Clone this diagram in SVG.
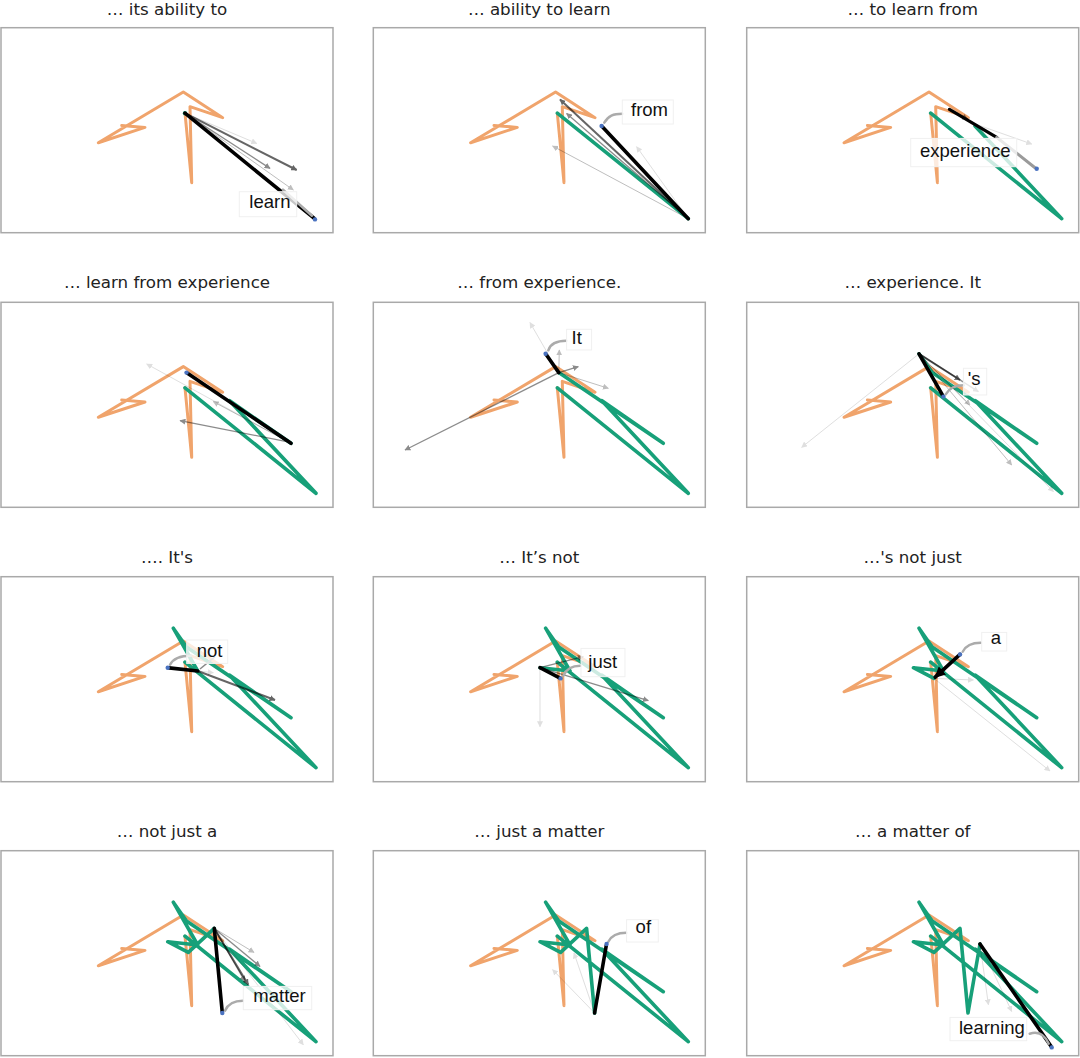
<svg xmlns="http://www.w3.org/2000/svg" xmlns:xlink="http://www.w3.org/1999/xlink" width="1080" height="1058" viewBox="0 0 1080 1058">
<style>
.frame{fill:#fff;stroke:#a9a9a9;stroke-width:1.5}
.title{font-family:"DejaVu Sans",Verdana,sans-serif;font-size:16.7px;fill:#222;text-anchor:middle}
.orange{fill:none;stroke:#f0a46c;stroke-width:3;stroke-linejoin:round;stroke-linecap:round}
.green{fill:none;stroke:#17a079;stroke-width:3.6;stroke-linejoin:round;stroke-linecap:round}
.k{stroke:#000;stroke-width:3.6;stroke-linecap:round}
.kh{stroke:#000;stroke-width:3.6;stroke-linecap:round;marker-end:url(#hk)}
.d1{stroke:#000;stroke-width:2;opacity:.6;marker-end:url(#hg)}
.d2{stroke:#000;stroke-width:1.3;opacity:.45;marker-end:url(#hg)}
.d3{stroke:#000;stroke-width:1;opacity:.25;marker-end:url(#hg)}
.d4{stroke:#000;stroke-width:1;opacity:.12;marker-end:url(#hg)}
.lbl rect{fill:#fff;fill-opacity:.78;stroke:#f0f0f0;stroke-width:1}
.lbl text{font-family:"Liberation Sans",Arial,sans-serif;font-size:18.5px;fill:#111}
.conn{fill:none;stroke:#ababab;stroke-width:2.5;stroke-linecap:round}
.dot{fill:#4a72c0}
.cur{fill:#17a079}
</style>
<defs>
<marker id="hk" viewBox="0 0 10 10" refX="9" refY="5" markerWidth="11" markerHeight="11" markerUnits="userSpaceOnUse" orient="auto"><path d="M0,0 L10,5 L0,10 z" fill="#000"/></marker>
<marker id="hg" viewBox="0 0 10 10" refX="9" refY="5" markerWidth="6" markerHeight="6" markerUnits="userSpaceOnUse" orient="auto"><path d="M0,0 L10,5 L0,10 z" fill="#000"/></marker>
<polyline id="orange" class="orange" points="120.7,97.7 144,99.7 97.3,115 182.3,64.3 221.7,90 189,79 190.7,155 184,85.5"/>
</defs>

<g id="titles">
<text class="title" x="167" y="15">… its ability to</text>
<text class="title" x="539.3" y="15">… ability to learn</text>
<text class="title" x="912.7" y="15">… to learn from</text>
<text class="title" x="167" y="288">… learn from experience</text>
<text class="title" x="539.3" y="288">… from experience.</text>
<text class="title" x="912.7" y="288">… experience. It</text>
<text class="title" x="167" y="562.5">…. It's</text>
<text class="title" x="539.3" y="562.5">… It’s not</text>
<text class="title" x="912.7" y="562.5">…'s not just</text>
<text class="title" x="167" y="836.5">… not just a</text>
<text class="title" x="539.3" y="836.5">… just a matter</text>
<text class="title" x="912.7" y="836.5">… a matter of</text>
</g>

<g id="panel-1" transform="translate(1,27.7)">
<rect class="frame" x="0" y="0" width="332" height="205"/>
<use href="#orange"/>
<circle class="cur" cx="184" cy="85.5" r="2.2"/>
<g id="arrows-1">
<line class="d4" x1="184" y1="85.5" x2="255.7" y2="115.7"/>
<line class="d3" x1="184" y1="85.5" x2="292.3" y2="162.3"/>
<line class="d2" x1="184" y1="85.5" x2="269" y2="140.7"/>
<line class="d1" x1="184" y1="85.5" x2="295.7" y2="142.3"/>
<line class="k" x1="184" y1="85.5" x2="313" y2="190.5"/>
<path class="conn" d="M282,162 L311,188"/>
</g>
<g class="lbl"><rect x="238.3" y="164" width="57.4" height="25"/><text x="248.3" y="180.7">learn</text></g>
<circle class="dot" cx="314" cy="191.7" r="2.2"/>
</g>

<g id="panel-2" transform="translate(373.3,27.7)">
<rect class="frame" x="0" y="0" width="332" height="205"/>
<use href="#orange"/>
<polyline class="green" points="184,85.5 315,191"/>
<g id="arrows-2">
<line class="d4" x1="315" y1="191" x2="263.3" y2="119"/>
<line class="d3" x1="315" y1="191" x2="179.3" y2="118.3"/>
<line class="d2" x1="315" y1="191" x2="193.3" y2="85.7"/>
<line class="d1" x1="315" y1="191" x2="186.7" y2="71.7"/>
<line class="k" x1="315" y1="191" x2="229.5" y2="99.5"/>
<path class="conn" d="M231,95 C235,88 240,86 249,86"/>
</g>
<g class="lbl"><rect x="249" y="72.3" width="51" height="24"/><text x="257.7" y="88.7">from</text></g>
<circle class="dot" cx="228.3" cy="98.3" r="2.2"/>
</g>

<g id="panel-3" transform="translate(746.7,27.7)">
<rect class="frame" x="0" y="0" width="332" height="205"/>
<use href="#orange"/>
<polyline class="green" points="184,85.5 315,191 228.3,98.3"/>
<g id="arrows-3">
<line class="d4" x1="226.7" y1="95.7" x2="285" y2="116.3"/>
<line class="d2" x1="210" y1="86" x2="221" y2="91.5"/>
<line x1="202.7" y1="81.7" x2="250" y2="109.7" stroke="#000" stroke-width="3.2" stroke-linecap="round"/>
<line x1="250" y1="109.7" x2="288.3" y2="140" stroke="#9a9a9a" stroke-width="3" stroke-linecap="round"/>
</g>
<g class="lbl"><rect x="164" y="110.7" width="106" height="28.3"/><text x="173.3" y="129">experience</text></g>
<circle class="dot" cx="290" cy="141" r="2.2"/>
</g>

<g id="panel-4" transform="translate(1,302.3)">
<rect class="frame" x="0" y="0" width="332" height="205"/>
<use href="#orange"/>
<polyline class="green" points="184,85.5 315,191 228.3,98.3 290,141"/>
<g id="arrows-4">
<line class="d4" x1="290" y1="141" x2="145.7" y2="61.7"/>
<line class="d3" x1="290" y1="141" x2="212.3" y2="99.3"/>
<line class="d2" x1="285.7" y1="139.3" x2="179" y2="118.3"/>
<line class="k" x1="290" y1="141" x2="186.5" y2="71"/>
</g>
<circle class="dot" cx="185.5" cy="70.3" r="2.2"/>
</g>

<g id="panel-5" transform="translate(373.3,302.3)">
<rect class="frame" x="0" y="0" width="332" height="205"/>
<use href="#orange"/>
<polyline class="green" points="184,85.5 315,191 228.3,98.3 290,141 185.5,70.3"/>
<g id="arrows-5">
<line class="d2" x1="185.5" y1="70.3" x2="31.7" y2="147.7"/>
<line class="d2" x1="185.5" y1="70.3" x2="205" y2="64.3"/>
<line class="d3" x1="185.5" y1="70.3" x2="235" y2="86"/>
<line class="d4" x1="185.5" y1="70.3" x2="156.7" y2="20.3"/>
<line class="d3" x1="185.5" y1="70.3" x2="186" y2="47.7"/>
<line class="k" x1="185.5" y1="70.3" x2="173" y2="52.5"/>
<path class="conn" d="M175,48 C177,42 183,38.5 193,38.5"/>
</g>
<g class="lbl"><rect x="193.3" y="27" width="25" height="20.7"/><text x="198.3" y="41.7">It</text></g>
<circle class="dot" cx="172.3" cy="51.5" r="2.2"/>
</g>

<g id="panel-6" transform="translate(746.7,302.3)">
<rect class="frame" x="0" y="0" width="332" height="205"/>
<use href="#orange"/>
<polyline class="green" points="184,85.5 315,191 228.3,98.3 290,141 185.5,70.3 172.3,51.5"/>
<g id="arrows-6">
<line class="d4" x1="172.3" y1="51.5" x2="55" y2="145"/>
<line class="d4" x1="172.3" y1="51.5" x2="306.7" y2="189.3"/>
<line class="d3" x1="172.3" y1="51.5" x2="265" y2="162.7"/>
<line class="d3" x1="172.3" y1="51.5" x2="223.3" y2="102.7"/>
<line class="d2" x1="172.3" y1="51.5" x2="231.7" y2="89.3"/>
<line class="d1" x1="172.3" y1="51.5" x2="213.3" y2="77.7"/>
<line class="k" x1="172.3" y1="51.5" x2="196" y2="93"/>
<path class="conn" d="M199,92 C203,85 209,83 217,83" stroke="#c8c8c8"/>
</g>
<g class="lbl"><rect x="216.7" y="66" width="23.3" height="26.7"/><text x="221" y="82.7">'s</text></g>
<circle class="dot" cx="196.7" cy="94.3" r="2.2"/>
</g>

<g id="panel-7" transform="translate(1,576.7)">
<rect class="frame" x="0" y="0" width="332" height="205"/>
<use href="#orange"/>
<polyline class="green" points="184,85.5 315,191 228.3,98.3 290,141 185.5,70.3 172.3,51.5 196.7,94.3"/>
<g id="arrows-7">
<line class="d4" x1="196.7" y1="94.3" x2="212.3" y2="96"/>
<line class="d1" x1="196.7" y1="94.3" x2="274" y2="123.3"/>
<line x1="199" y1="92.3" x2="214" y2="80" stroke="#888" stroke-width="1.5"/>
<line class="k" x1="196.7" y1="94.3" x2="168" y2="91.2"/>
<path class="conn" d="M169,88 C172,82 178,79 190,79"/>
</g>
<g class="lbl"><rect x="185.7" y="63.3" width="41" height="23.4"/><text x="195.7" y="80">not</text></g>
<circle class="dot" cx="166.7" cy="91" r="2.2"/>
</g>

<g id="panel-8" transform="translate(373.3,576.7)">
<rect class="frame" x="0" y="0" width="332" height="205"/>
<use href="#orange"/>
<polyline class="green" points="184,85.5 315,191 228.3,98.3 290,141 185.5,70.3 172.3,51.5 196.7,94.3 166.7,91"/>
<g id="arrows-8">
<line class="d4" x1="166.7" y1="91" x2="166.7" y2="150"/>
<line class="d2" x1="166.7" y1="91" x2="275" y2="124"/>
<line class="d2" x1="166.7" y1="91" x2="210" y2="80"/>
<line class="k" x1="166.7" y1="91" x2="186.3" y2="101.2"/>
<path class="conn" d="M190,99 C193,92 199,89 207,89"/>
</g>
<g class="lbl"><rect x="207.7" y="71.7" width="44" height="28.3"/><text x="215" y="91.7">just</text></g>
<circle class="dot" cx="187.3" cy="101.7" r="2.2"/>
</g>

<g id="panel-9" transform="translate(746.7,576.7)">
<rect class="frame" x="0" y="0" width="332" height="205"/>
<use href="#orange"/>
<polyline class="green" points="184,85.5 315,191 228.3,98.3 290,141 185.5,70.3 172.3,51.5 196.7,94.3 166.7,91 187.3,101.7"/>
<g id="arrows-9">
<line class="d4" x1="187.3" y1="101.7" x2="303.3" y2="194.3"/>
<line class="d4" x1="187.3" y1="101.7" x2="226.7" y2="103.3"/>
<line class="kh" x1="213.3" y1="77.7" x2="188.5" y2="100.5"/>
<path class="conn" d="M216,75 C219,69 225,66 234,66"/>
</g>
<g class="lbl"><rect x="235" y="55.7" width="25" height="18.6"/><text x="244" y="67.7">a</text></g>
<circle class="dot" cx="213.3" cy="77.7" r="2.2"/>
</g>

<g id="panel-10" transform="translate(1,850.7)">
<rect class="frame" x="0" y="0" width="332" height="205"/>
<use href="#orange"/>
<polyline class="green" points="184,85.5 315,191 228.3,98.3 290,141 185.5,70.3 172.3,51.5 196.7,94.3 166.7,91 187.3,101.7 213.3,77.7"/>
<g id="arrows-10">
<line class="d4" x1="213.3" y1="77.7" x2="302.3" y2="194"/>
<line class="d3" x1="213.3" y1="77.7" x2="253" y2="101.7"/>
<line class="d2" x1="213.3" y1="77.7" x2="259" y2="115.7"/>
<line class="d2" x1="213.3" y1="77.7" x2="244" y2="130.7"/>
<line class="d1" x1="213.3" y1="77.7" x2="247.3" y2="134"/>
<line class="k" x1="213.3" y1="77.7" x2="221.2" y2="161"/>
<path class="conn" d="M224,160 C227,153 233,150 242,150"/>
</g>
<g class="lbl"><rect x="242.3" y="135.7" width="68.4" height="23.3"/><text x="252.3" y="151.3">matter</text></g>
<circle class="dot" cx="221.3" cy="162.3" r="2.2"/>
</g>

<g id="panel-11" transform="translate(373.3,850.7)">
<rect class="frame" x="0" y="0" width="332" height="205"/>
<use href="#orange"/>
<polyline class="green" points="184,85.5 315,191 228.3,98.3 290,141 185.5,70.3 172.3,51.5 196.7,94.3 166.7,91 187.3,101.7 213.3,77.7 221.3,162.3"/>
<g id="arrows-11">
<line class="d4" x1="221.3" y1="162.3" x2="179.3" y2="119"/>
<line class="d4" x1="221.3" y1="162.3" x2="200.7" y2="102.3"/>
<line class="k" x1="221.3" y1="162.3" x2="233" y2="94.5"/>
<path class="conn" d="M235,91 C238,85 244,82 253,82"/>
</g>
<g class="lbl"><rect x="253.3" y="69" width="31.7" height="22.3"/><text x="262.3" y="82.3">of</text></g>
<circle class="dot" cx="233.3" cy="93.3" r="2.2"/>
</g>

<g id="panel-12" transform="translate(746.7,850.7)">
<rect class="frame" x="0" y="0" width="332" height="205"/>
<use href="#orange"/>
<polyline class="green" points="184,85.5 315,191 228.3,98.3 290,141 185.5,70.3 172.3,51.5 196.7,94.3 166.7,91 187.3,101.7 213.3,77.7 221.3,162.3 233.3,93.3"/>
<g id="arrows-12">
<line class="d4" x1="233.3" y1="93.3" x2="241.7" y2="154"/>
<line class="d4" x1="233.3" y1="93.3" x2="265" y2="160.7"/>
<line class="k" x1="233.3" y1="93.3" x2="304" y2="195"/>
<path class="conn" d="M283,183 C292,180 298,184 302,193"/>
</g>
<g class="lbl"><rect x="203.3" y="166.7" width="76.7" height="23.3"/><text x="212.3" y="183">learning</text></g>
<circle class="dot" cx="305" cy="196.7" r="2.2"/>
</g>
</svg>
